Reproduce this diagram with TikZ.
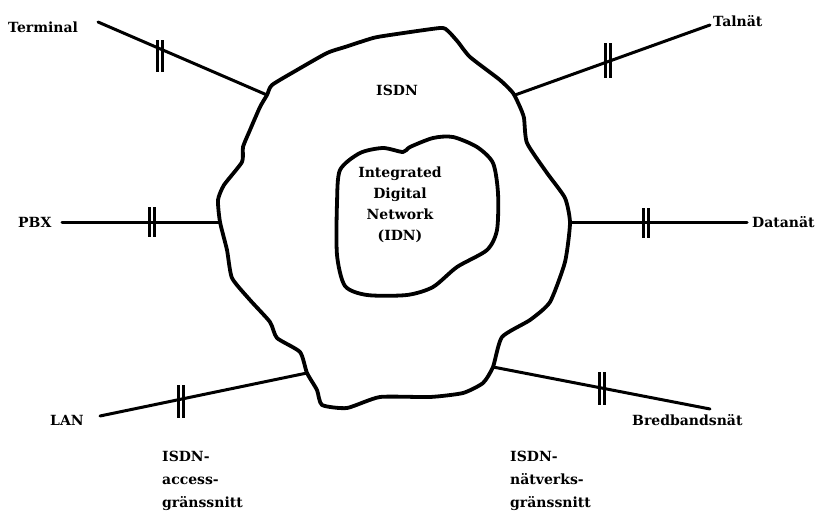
\documentclass[tikz,border=0pt]{standalone}
\usepackage{fontspec}
\setmainfont{DejaVu Serif}
\begin{document}
\begin{tikzpicture}[x=1pt,y=-1pt,
  lbl/.style={font=\bfseries\fontsize{14}{21}\selectfont, inner sep=0pt},
  twoline/.style={font=\bfseries\fontsize{14}{23}\selectfont},
  link/.style={line width=3pt, line cap=round},
  cloud/.style={line width=3.8pt, line join=round},
  tick/.style={line width=3pt}]
\useasboundingbox (0,0) rectangle (822,514);

% outer ISDN boundary
\draw[cloud] plot[smooth cycle, tension=0.35] coordinates {
  (267,95) (272,85) (297,70) (327,53) (345,47) (373,38) (390,35) (440,28)
  (448,31) (458,42) (470,57) (500,80) (513,93) (520,107) (524,118)
  (527,143) (547,173) (565,198) (570,223) (565,262) (550,302) (530,320)
  (502,337) (493,367) (483,383) (463,393) (430,397) (380,397) (347,408)
  (322,405) (317,390) (307,373) (300,352) (277,338) (270,322) (250,300)
  (232,278) (227,250) (220,222) (218,200) (224,185) (242,162) (243,147)
  (250,130) (260,107)};

% inner IDN boundary
\draw[cloud] plot[smooth cycle, tension=0.45] coordinates {
  (340,170) (360,153) (383,148) (403,152) (410,147) (433,138) (453,137)
  (477,147) (493,163) (498,193) (497,230) (487,250) (457,267) (433,287)
  (407,295) (367,295) (345,286) (337,255) (337,203)};

% junctions on the boundary and free ends of the links
\coordinate (jT)   at (267,95);  \coordinate (eT)   at (98,22);
\coordinate (jTal) at (515,95);  \coordinate (eTal) at (710,25);
\coordinate (jPBX) at (220,222); \coordinate (ePBX) at (62,222);
\coordinate (jDat) at (570,222); \coordinate (eDat) at (747,222);
\coordinate (jLAN) at (307,373); \coordinate (eLAN) at (100,416);
\coordinate (jBB)  at (493,367); \coordinate (eBB)  at (710,409);

% links
\draw[link] (eT) -- (jT);
\draw[link] (eTal) -- (jTal);
\draw[link] (ePBX) -- (jPBX);
\draw[link] (eDat) -- (jDat);
\draw[link] (eLAN) -- (jLAN);
\draw[link] (eBB) -- (jBB);

% interface marks (double bars)
\foreach \x/\ya/\yb in {157/40/72, 162/40/72, 605/43/78, 610/43/78,
                        149/207/237, 154/207/237, 643/208/238, 648/208/238,
                        178/385/418, 183/385/418, 599/372/405, 604/372/405}
  \draw[tick] (\x,\ya) -- (\x,\yb);

% labels
\node[lbl, anchor=west] (terminal) at (8,27) {Terminal};
\node[lbl, anchor=west] (talnat) at (713,21) {Talnät};
\node[lbl, anchor=west] (pbx) at (18,222) {PBX};
\node[lbl, anchor=west] (datanat) at (752,222) {Datanät};
\node[lbl, anchor=west] (lan) at (50,420) {LAN};
\node[lbl, anchor=west] (bredband) at (632,420) {Bredbandsnät};
\node[lbl] (isdn) at (397,90) {ISDN};
\node[lbl, align=center] (idn) at (400,205)
  {Integrated\\Digital\\Network\\(IDN)};
\node[lbl, twoline, align=left, anchor=west]
  (access) at (162,481) {ISDN-\\access-\\gränssnitt};
\node[lbl, twoline, align=left, anchor=west]
  (natverk) at (510,481) {ISDN-\\nätverks-\\gränssnitt};
\end{tikzpicture}
\end{document}
